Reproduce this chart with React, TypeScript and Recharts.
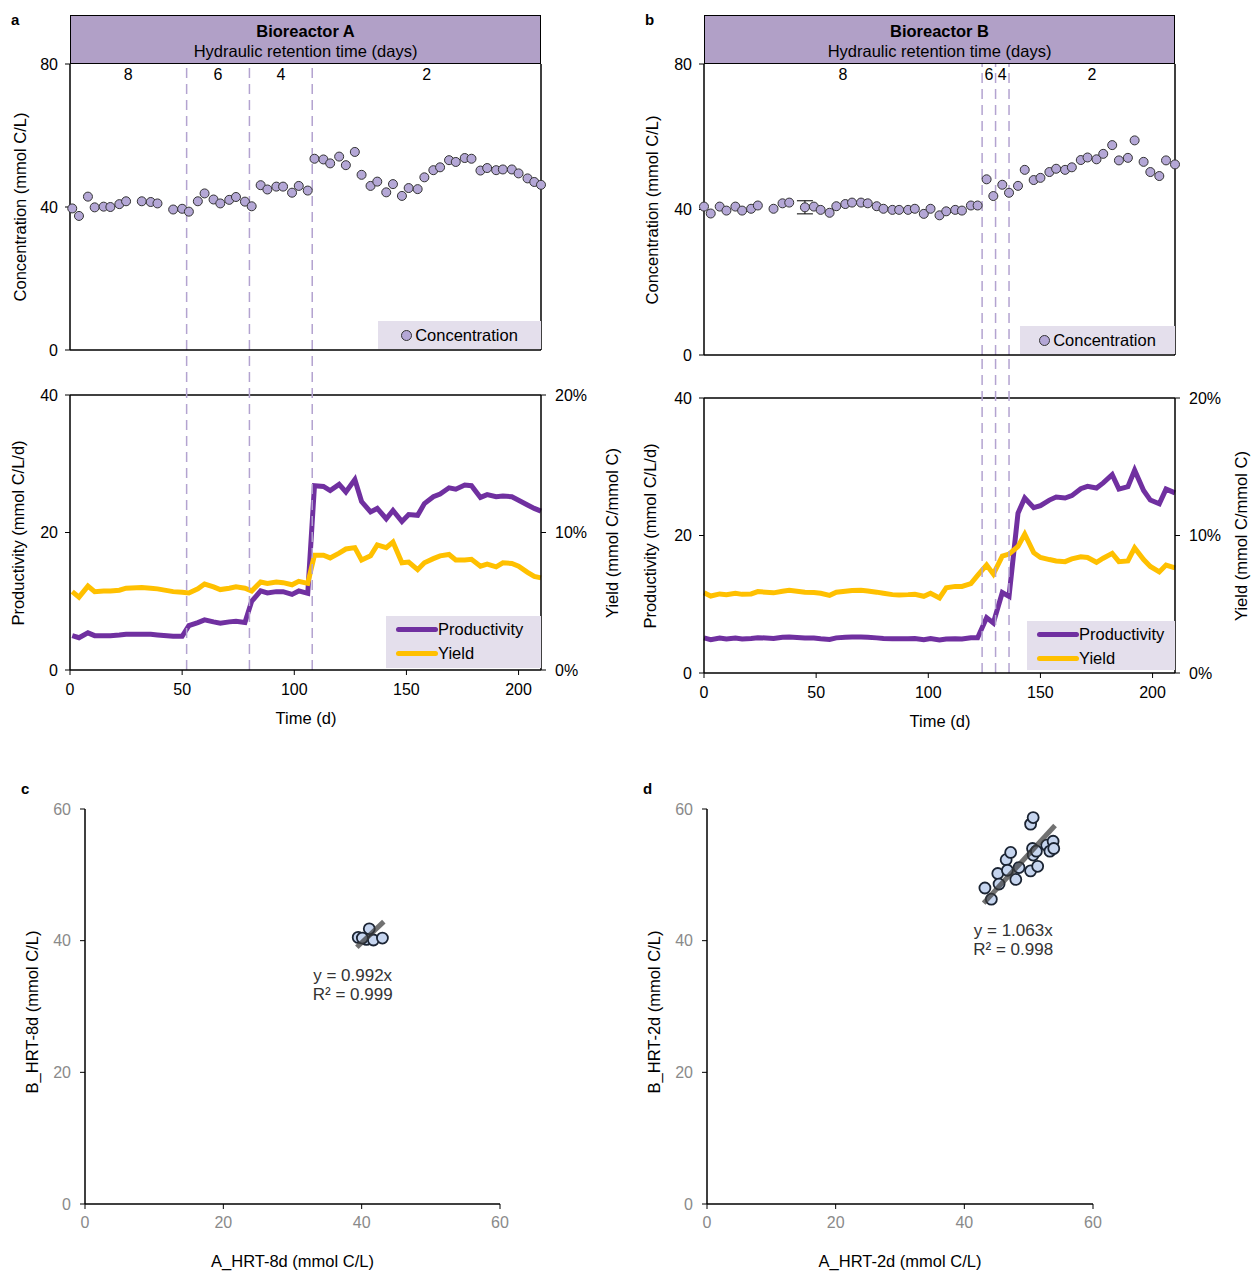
import React from "react";
import {
  ComposedChart,
  ScatterChart,
  Line,
  Scatter,
  XAxis,
  YAxis,
  ReferenceLine,
  ReferenceArea,
  ReferenceDot,
  ErrorBar,
} from "recharts";

const FONT = '"Liberation Sans", Arial, sans-serif';
const PURPLE = "#7030a0";
const GOLD = "#ffc000";
const LAVENDER = "#b4a7d6";
const HEADER_BG = "#b1a0c7";
const LEGEND_BG = "#e4dfec";
const DASH = "#b3a3d0";
const X_MAX = 210;
const X_TICKS = [0, 50, 100, 150, 200];
const HRT_LABELS = ["8", "6", "4", "2"];

// ---- Bioreactor A (days, concentration mmol C/L, productivity mmol C/L/d, yield %)
const daysA = [1, 4, 8, 11, 15, 18, 22, 25, 32, 36, 39, 46, 50, 53, 57, 60, 64, 67, 71, 74, 78, 81, 85, 88, 92, 95, 99, 102, 106,
  109, 113, 116, 120, 123, 127, 130, 134, 137, 141, 144, 148, 151, 155, 158, 162, 165, 169, 172, 176, 179, 183, 186, 190, 193, 197, 200, 204, 207, 210];
const concA = [39.6, 37.5, 42.9, 39.9, 40.1, 40.0, 40.8, 41.6, 41.6, 41.4, 41.0, 39.3, 39.5, 38.7, 41.6, 43.8, 42.1, 41.0, 42.0, 42.8, 41.5,
  40.2, 46.1, 44.9, 45.7, 45.7, 44.0, 45.9, 44.6,
  53.5, 53.3, 52.2, 54.1, 51.7, 55.4, 49.0, 45.9, 47.1, 44.1, 46.4, 43.1, 45.3, 45.0, 48.3, 50.3, 51.1, 53.1, 52.6, 53.7, 53.5, 50.2, 50.9, 50.3, 50.5, 50.5, 49.4, 48.0, 47.0, 46.2];
const prodA = [5.0, 4.7, 5.4, 5.0, 5.0, 5.0, 5.1, 5.2, 5.2, 5.2, 5.1, 4.9, 4.9, 6.45, 6.9, 7.3, 7.0, 6.8, 7.0, 7.1, 6.9,
  10.0, 11.5, 11.2, 11.4, 11.4, 11.0, 11.5, 11.15,
  26.8, 26.7, 26.1, 27.0, 25.9, 27.7, 24.5, 23.0, 23.5, 22.0, 23.2, 21.6, 22.6, 22.5, 24.2, 25.2, 25.6, 26.5, 26.3, 26.9, 26.8, 25.1, 25.5, 25.2, 25.3, 25.2, 24.7, 24.0, 23.5, 23.1];
const yldA = [5.7, 5.3, 6.1, 5.7, 5.75, 5.75, 5.8, 5.95, 6.0, 5.95, 5.9, 5.7, 5.65, 5.6, 5.9, 6.25, 6.05, 5.85, 5.95, 6.05, 5.95,
  5.75, 6.4, 6.3, 6.4, 6.35, 6.2, 6.45, 6.3,
  8.35, 8.35, 8.15, 8.5, 8.8, 8.9, 8.0, 8.3, 9.1, 8.9, 9.3, 7.8, 7.85, 7.3, 7.8, 8.1, 8.3, 8.4, 8.0, 8.0, 8.05, 7.55, 7.7, 7.5, 7.8, 7.75, 7.55, 7.1, 6.8, 6.7];
const errA: (number | null)[] = daysA.map(() => null);
const phasesA = [0, 52, 80, 108, 210];

// ---- Bioreactor B
const daysB = [0, 3, 7, 10, 14, 17, 21, 24, 31, 35, 38, 45, 49, 52, 56, 59, 63, 66, 70, 73, 77, 80, 84, 87, 91, 94, 98, 101, 105, 108, 112, 115, 119, 122,
  126, 129, 133, 136, 140, 143, 147, 150, 154, 157, 161, 164, 168, 171, 175, 178, 182, 185, 189, 192, 196, 199, 203, 206, 210];
const concB = [40.8, 38.9, 40.8, 39.7, 40.8, 39.7, 40.2, 41.1, 40.2, 41.7, 41.9, 40.6, 40.8, 39.9, 39.1, 40.9, 41.5, 41.9, 41.9, 41.7, 40.9, 40.2, 39.9, 39.9, 39.9, 40.2, 38.8, 40.2, 38.4, 39.5, 39.9, 39.7, 41.1, 41.1,
  48.3, 43.7, 46.8, 44.6, 46.5, 50.9, 48.1, 48.7, 50.3, 51.2, 50.9, 51.6, 53.6, 54.3, 53.8, 55.3, 57.7, 53.5, 54.2, 59.0, 53.1, 50.3, 49.2, 53.5, 52.4];
const prodB = [5.1, 4.86, 5.1, 4.96, 5.1, 4.96, 5.03, 5.14, 5.03, 5.21, 5.24, 5.08, 5.1, 4.99, 4.89, 5.11, 5.19, 5.24, 5.24, 5.21, 5.11, 5.03, 4.99, 4.99, 4.99, 5.03, 4.85, 5.03, 4.8, 4.94, 4.99, 4.96, 5.14, 5.14,
  8.05, 7.28, 11.7, 11.15, 23.25, 25.45, 24.05, 24.35, 25.15, 25.6, 25.45, 25.8, 26.8, 27.15, 26.9, 27.65, 28.85, 26.75, 27.1, 29.5, 26.55, 25.15, 24.6, 26.75, 26.2];
const yldB = [5.83, 5.6, 5.75, 5.7, 5.8, 5.72, 5.75, 5.92, 5.83, 5.95, 6.02, 5.88, 5.85, 5.8, 5.65, 5.88, 5.95, 6.0, 6.02, 5.97, 5.88, 5.8, 5.7, 5.68, 5.7, 5.73, 5.58, 5.8, 5.46, 6.2, 6.3, 6.3, 6.5, 7.1,
  7.85, 7.2, 8.5, 8.65, 9.2, 10.1, 8.75, 8.4, 8.25, 8.15, 8.1, 8.3, 8.45, 8.4, 8.05, 8.35, 8.7, 8.1, 8.15, 9.1, 8.25, 7.75, 7.35, 7.85, 7.65];
const errB: (number | null)[] = daysB.map((d) => (d === 45 ? 1.8 : null));
const phasesB = [0, 124, 130, 136, 210];

// ---- A vs B scatter (c: HRT 8 d, d: HRT 2 d)
const hrt8A = [39.5, 41.1, 40.7, 41.7, 43.0, 40.1];
const hrt8B = [40.5, 41.8, 40.2, 40.1, 40.4, 40.4];
const hrt8TrendX = [39.3, 43.2];
const hrt8TrendY = [39.0, 42.9];
const hrt2A = [43.2, 44.2, 45.2, 45.4, 46.5, 47.2, 46.7, 48.0, 48.5, 50.3, 50.7, 50.3, 50.6, 50.7, 51.2, 51.4, 52.8, 53.3, 53.8, 53.9];
const hrt2B = [48.0, 46.3, 50.2, 48.6, 52.3, 53.4, 50.7, 49.3, 51.1, 57.7, 58.7, 50.6, 54.0, 53.0, 53.6, 51.3, 54.5, 53.6, 55.1, 54.0];
const hrt2TrendX = [43.0, 54.1];
const hrt2TrendY = [45.7, 57.5];

const abs = (left: number, top: number): React.CSSProperties => ({ position: "absolute", left, top });

function VTitle({ x, y, text }: { x: number; y: number; text: string }) {
  return (
    <div style={{ ...abs(x, y), transform: "translate(-50%, -50%) rotate(-90deg)", whiteSpace: "nowrap", fontSize: 16.5 }}>
      {text}
    </div>
  );
}

function HTitle({ x, y, text }: { x: number; y: number; text: string }) {
  return (
    <div style={{ ...abs(x, y), transform: "translate(-50%, -50%)", whiteSpace: "nowrap", fontSize: 16.5 }}>{text}</div>
  );
}

type PanelCfg = {
  x0: number;
  letter: string;
  name: string;
  days: number[];
  conc: number[];
  err: (number | null)[];
  prod: number[];
  yld: number[];
  phases: number[];
  topBottom: number;
  botTop: number;
  botBottom: number;
  concLegend: number[];
  lineLegend: number[];
  titleX: number[]; // left titles offset, right title offset
};

const axisLine = { stroke: "#000", strokeWidth: 1.5 };
const tickLine = { stroke: "#000", strokeWidth: 1 };

function TimePanel({ c }: { c: PanelCfg }) {
  const rows = c.days.map((d, i) => ({
    day: d,
    conc: c.conc[i],
    err: c.err[i] == null ? undefined : c.err[i],
    prod: c.prod[i],
    yld: c.yld[i],
  }));
  const topH = c.topBottom - 44 + 14;
  const botMt = c.botTop - c.topBottom;
  const botH = botMt + (c.botBottom - c.botTop) + 35;
  const ext = (40 * (c.botBottom - c.topBottom)) / (c.botBottom - c.botTop);
  const switches = c.phases.slice(1, -1);
  const [cl, ct, cw, ch] = c.concLegend;
  const [ll, lt, lw, lh] = c.lineLegend;
  const mid = (c.botTop + c.botBottom) / 2;

  return (
    <>
      <div style={{ ...abs(c.x0 + 11, 11), fontWeight: "bold", fontSize: 15 }}>{c.letter}</div>
      <div
        style={{
          ...abs(c.x0 + 70, 15),
          width: 471,
          height: 49,
          boxSizing: "border-box",
          background: HEADER_BG,
          border: "1.5px solid #000",
          textAlign: "center",
          fontSize: 16.5,
        }}
      >
        <div style={{ position: "absolute", top: 6, width: "100%", fontWeight: "bold" }}>{c.name}</div>
        <div style={{ position: "absolute", top: 26, width: "100%" }}>Hydraulic retention time (days)</div>
      </div>

      <div style={abs(c.x0, 44)}>
        <ComposedChart width={620} height={topH} data={rows} margin={{ top: 20, right: 79, bottom: 13, left: 20 }}>
          <XAxis dataKey="day" type="number" domain={[0, X_MAX]} tick={false} height={1} axisLine={axisLine} tickLine={false} />
          <YAxis
            domain={[0, 80]}
            ticks={[0, 40, 80]}
            width={50}
            tick={{ fill: "#000", fontSize: 16 }}
            tickSize={5}
            tickMargin={7}
            axisLine={axisLine}
            tickLine={tickLine}
          />
          {HRT_LABELS.map((lab, i) => (
            <ReferenceArea
              key={lab}
              x1={c.phases[i]}
              x2={c.phases[i + 1]}
              fill="none"
              fillOpacity={0}
              stroke="none"
              label={{ value: lab, position: "insideTop", offset: 5, fontSize: 16, fill: "#000" }}
            />
          ))}
          {switches.map((d) => (
            <ReferenceLine key={d} x={d} stroke={DASH} strokeWidth={1.5} strokeDasharray="10 6" />
          ))}
          <ReferenceLine x={X_MAX} stroke="#000" strokeWidth={1.5} />
          <Line
            dataKey="conc"
            stroke="none"
            isAnimationActive={false}
            activeDot={false}
            dot={{ r: 4.5, fill: LAVENDER, stroke: "#333", strokeWidth: 1 }}
          >
            <ErrorBar dataKey="err" width={8} stroke="#000" strokeWidth={1} direction="y" />
          </Line>
        </ComposedChart>
      </div>

      <div style={abs(c.x0, c.topBottom)}>
        <ComposedChart width={620} height={botH} data={rows} margin={{ top: botMt, right: 29, bottom: 5, left: 20 }}>
          <XAxis
            dataKey="day"
            type="number"
            domain={[0, X_MAX]}
            ticks={X_TICKS}
            height={30}
            tick={{ fill: "#000", fontSize: 16 }}
            tickSize={5}
            tickMargin={9}
            axisLine={axisLine}
            tickLine={tickLine}
          />
          <YAxis
            yAxisId="p"
            domain={[0, 40]}
            ticks={[0, 20, 40]}
            width={50}
            tick={{ fill: "#000", fontSize: 16 }}
            tickSize={5}
            tickMargin={7}
            axisLine={axisLine}
            tickLine={tickLine}
          />
          <YAxis
            yAxisId="y"
            orientation="right"
            domain={[0, 20]}
            ticks={[0, 10, 20]}
            tickFormatter={(v) => `${v}%`}
            width={50}
            tick={{ fill: "#000", fontSize: 16 }}
            tickSize={5}
            tickMargin={9}
            axisLine={axisLine}
            tickLine={tickLine}
          />
          <ReferenceLine yAxisId="p" y={40} stroke="#000" strokeWidth={1.5} />
          <Line yAxisId="p" dataKey="prod" stroke={PURPLE} strokeWidth={5} dot={false} activeDot={false} isAnimationActive={false} />
          <Line yAxisId="y" dataKey="yld" stroke={GOLD} strokeWidth={5} dot={false} activeDot={false} isAnimationActive={false} />
          {switches.map((d) => (
            <ReferenceLine
              key={d}
              yAxisId="p"
              segment={[
                { x: d, y: 0 },
                { x: d, y: ext },
              ]}
              ifOverflow="visible"
              stroke={DASH}
              strokeWidth={1.5}
              strokeDasharray="10 6"
            />
          ))}
        </ComposedChart>
      </div>

      <div
        style={{
          ...abs(cl, ct),
          width: cw,
          height: ch,
          background: LEGEND_BG,
          display: "flex",
          alignItems: "center",
          justifyContent: "center",
          fontSize: 16.5,
        }}
      >
        <span
          style={{
            display: "inline-block",
            width: 9,
            height: 9,
            borderRadius: "50%",
            background: LAVENDER,
            border: "1px solid #333",
            marginRight: 3,
          }}
        />
        Concentration
      </div>

      <div style={{ ...abs(ll, lt), width: lw, height: lh, background: LEGEND_BG, fontSize: 16.5 }}>
        {[
          { color: PURPLE, label: "Productivity", top: 3 },
          { color: GOLD, label: "Yield", top: 27 },
        ].map((r) => (
          <div key={r.label} style={{ position: "absolute", left: 10, top: r.top, display: "flex", alignItems: "center", height: 20 }}>
            <span style={{ display: "inline-block", width: 42, height: 5, borderRadius: 3, background: r.color }} />
            <span>{r.label}</span>
          </div>
        ))}
      </div>

      <VTitle x={c.x0 + c.titleX[0]} y={(64 + c.topBottom) / 2} text="Concentration (mmol C/L)" />
      <VTitle x={c.x0 + c.titleX[0] - 2} y={mid} text="Productivity (mmol C/L/d)" />
      <VTitle x={c.x0 + c.titleX[1]} y={mid} text="Yield (mmol C/mmol C)" />
      <HTitle x={c.x0 + 306} y={c.botBottom + 48} text="Time (d)" />
    </>
  );
}

type ScatterCfg = {
  x0: number;
  width: number;
  letter: string;
  xs: number[];
  ys: number[];
  tx: number[];
  ty: number[];
  eq: string[];
  eqAt: number[];
  xTitle: string;
  yTitle: string;
};

function ScatterPanel({ s }: { s: ScatterCfg }) {
  const pts = s.xs.map((x, i) => ({ x, y: s.ys[i] }));
  const trend = s.tx.map((x, i) => ({ x, y: s.ty[i] }));
  const plotLeft = s.x0 + 85;
  const plotRight = s.x0 + s.width - 30;
  const renderEq = (p: any) => {
    const vb = p.viewBox || {};
    const cx = (vb.x ?? 0) + (vb.width ?? 0) / 2;
    const cy = (vb.y ?? 0) + (vb.height ?? 0) / 2;
    return (
      <text textAnchor="middle" fontSize={17} fill="#333">
        <tspan x={cx} y={cy - 4}>
          {s.eq[0]}
        </tspan>
        <tspan x={cx} y={cy + 15}>
          {s.eq[1]}
        </tspan>
      </text>
    );
  };
  const gray = { fill: "#8a8a8a", fontSize: 16 };
  return (
    <>
      <div style={{ ...abs(s.x0 + 21, 780), fontWeight: "bold", fontSize: 15 }}>{s.letter}</div>
      <div style={abs(s.x0, 790)}>
        <ScatterChart width={s.width} height={480} margin={{ top: 19, right: 30, bottom: 36, left: 25 }}>
          <XAxis
            dataKey="x"
            type="number"
            domain={[0, 60]}
            ticks={[0, 20, 40, 60]}
            height={30}
            tick={gray}
            tickSize={5}
            tickMargin={8}
            axisLine={axisLine}
            tickLine={tickLine}
          />
          <YAxis
            dataKey="y"
            type="number"
            domain={[0, 60]}
            ticks={[0, 20, 40, 60]}
            width={60}
            tick={gray}
            tickSize={5}
            tickMargin={9}
            axisLine={axisLine}
            tickLine={tickLine}
          />
          <Scatter
            data={pts}
            isAnimationActive={false}
            shape={(p: any) => <circle cx={p.cx} cy={p.cy} r={5.5} fill="#c6d5ef" stroke="#1b2433" strokeWidth={1.8} />}
          />
          <Scatter
            data={trend}
            isAnimationActive={false}
            line={{ stroke: "#3a3a3a", strokeWidth: 5, strokeOpacity: 0.72 }}
            shape={() => <g />}
          />
          <ReferenceDot x={s.eqAt[0]} y={s.eqAt[1]} r={0} fill="none" stroke="none" label={renderEq} />
        </ScatterChart>
      </div>
      <VTitle x={s.x0 + 32} y={1012} text={s.yTitle} />
      <HTitle x={(plotLeft + plotRight) / 2} y={1261} text={s.xTitle} />
    </>
  );
}

const panelA: PanelCfg = {
  x0: 0,
  letter: "a",
  name: "Bioreactor A",
  days: daysA,
  conc: concA,
  err: errA,
  prod: prodA,
  yld: yldA,
  phases: phasesA,
  topBottom: 350,
  botTop: 395,
  botBottom: 670,
  concLegend: [378, 321, 163, 28],
  lineLegend: [386, 616, 155, 52],
  titleX: [20, 612],
};

const panelB: PanelCfg = {
  x0: 634,
  letter: "b",
  name: "Bioreactor B",
  days: daysB,
  conc: concB,
  err: errB,
  prod: prodB,
  yld: yldB,
  phases: phasesB,
  topBottom: 355,
  botTop: 398,
  botBottom: 673,
  concLegend: [1020, 326, 155, 28],
  lineLegend: [1027, 621, 148, 49],
  titleX: [18, 607],
};

const scatterC: ScatterCfg = {
  x0: 0,
  width: 530,
  letter: "c",
  xs: hrt8A,
  ys: hrt8B,
  tx: hrt8TrendX,
  ty: hrt8TrendY,
  eq: ["y = 0.992x", "R² = 0.999"],
  eqAt: [38.7, 33.3],
  xTitle: "A_HRT-8d (mmol C/L)",
  yTitle: "B_HRT-8d (mmol C/L)",
};

const scatterD: ScatterCfg = {
  x0: 622,
  width: 501,
  letter: "d",
  xs: hrt2A,
  ys: hrt2B,
  tx: hrt2TrendX,
  ty: hrt2TrendY,
  eq: ["y = 1.063x", "R² = 0.998"],
  eqAt: [47.6, 40.1],
  xTitle: "A_HRT-2d (mmol C/L)",
  yTitle: "B_HRT-2d (mmol C/L)",
};

export default function App() {
  return (
    <div
      style={{
        position: "absolute",
        left: 0,
        top: 0,
        width: 1251,
        height: 1272,
        background: "#fff",
        fontFamily: FONT,
        color: "#000",
        overflow: "hidden",
      }}
    >
      <TimePanel c={panelA} />
      <TimePanel c={panelB} />
      <ScatterPanel s={scatterC} />
      <ScatterPanel s={scatterD} />
    </div>
  );
}
